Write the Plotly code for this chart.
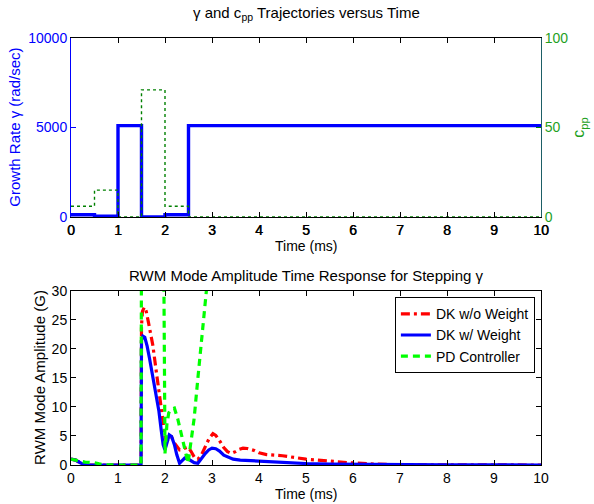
import plotly.graph_objects as go

# ---------------- data ----------------
# top panel: step trajectories (value holds from each time to the next)
step_t = [0, 0.5, 1.0, 1.5, 2.0, 2.5, 10]
gamma_vals = [120, 40, 5100, 0, 120, 5100, 5100]
cpp_vals = [6, 15, 0, 71, 6, 0, 0]

# bottom panel: RWM mode amplitude responses
t_dk = [0, 0.05, 0.1, 0.15, 0.2, 0.25, 0.3, 0.4, 1.0, 1.49, 1.5, 1.53, 1.57, 1.62, 1.67,
        1.72, 1.77, 1.82, 1.87, 1.92, 1.96, 2.0, 2.04, 2.09, 2.14, 2.2, 2.25, 2.31, 2.36,
        2.42, 2.48, 2.55, 2.62, 2.7, 2.78, 2.86, 2.93, 3.0, 3.08, 3.16, 3.25, 3.35, 3.45,
        3.6, 3.8, 4.0, 4.5, 5.0, 5.5, 6.0, 7.0, 8.0, 10.0]
amp_dk_w = [1.0, 0.95, 0.85, 0.6, 0.35, 0.15, 0.05, 0, 0, 0, 21.5, 22.2, 22.0, 20.5, 18.4,
            16.2, 14.0, 12.0, 9.3, 6.0, 3.5, 2.6, 4.0, 5.2, 4.9, 3.5, 1.8, 0.3, 0.7,
            1.2, 1.1, 0.8, 0.4, 0.3, 1.2, 2.0, 2.6, 2.9, 2.8, 2.4, 1.7, 1.3, 1.0,
            0.85, 0.75, 0.65, 0.45, 0.25, 0.15, 0.1, 0.05, 0.02, 0.0]

t_dk_nw = [0, 0.05, 0.1, 0.15, 0.2, 0.25, 0.3, 0.4, 1.0, 1.49, 1.5, 1.52, 1.56, 1.6, 1.65,
           1.7, 1.74, 1.8, 1.85, 1.9, 1.96, 2.0, 2.03, 2.08, 2.14, 2.2, 2.31, 2.4, 2.49,
           2.55, 2.62, 2.7, 2.78, 2.86, 2.94, 3.02, 3.08, 3.16, 3.25, 3.33, 3.41, 3.5,
           3.58, 3.66, 3.75, 3.9, 4.0, 4.16, 4.5, 5.0, 5.5, 6.0, 6.5, 7.0, 8.0, 10.0]
amp_dk_nw = [1.0, 0.95, 0.85, 0.6, 0.35, 0.15, 0.05, 0, 0, 0, 24.0, 26.5, 27.2, 26.5, 24.5,
             22.2, 20.7, 17.0, 13.8, 10.5, 7.5, 5.0, 4.0, 4.6, 4.8, 3.8, 2.6, 2.8, 3.1,
             2.4, 1.4, 1.0, 1.8, 3.2, 4.6, 5.4, 5.1, 4.2, 3.0, 2.3, 2.0, 2.3,
             2.7, 2.9, 2.85, 2.5, 2.1, 1.8, 1.6, 1.0, 0.65, 0.35, 0.15, 0.05, 0.02, 0.0]

t_pd = [0, 0.1, 0.2, 0.3, 0.4, 0.5, 0.6, 0.7, 1.0, 1.49, 1.5, 1.55, 1.97, 2.0, 2.04,
        2.08, 2.13, 2.2, 2.27, 2.35, 2.42, 2.49, 2.55, 2.62, 2.7, 2.78, 2.86, 2.92, 3.0]
amp_pd = [1.0, 0.85, 0.6, 0.5, 0.45, 0.4, 0.2, 0.05, 0, 0, 40, 60, 40, 2.0, 7.0,
          9.0, 9.6, 9.8, 8.0, 5.5, 2.8, 0.3, 3.5, 8.0, 15.0, 22.0, 28.5, 33.0, 40.0]

x_ticks = list(range(0, 11))
gamma_ticks = [0, 5000, 10000]
cpp_ticks = [0, 50, 100]
amp_ticks = [0, 5, 10, 15, 20, 25, 30]

# ---------------- figure ----------------
FONT = "Liberation Sans, Arial, Helvetica, sans-serif"
FS = 14
FT = 15
BLUE = "#0000ff"
DKGREEN = "#008000"
GTEXT = "#1f9f1f"

fig = go.Figure()

fig.add_trace(go.Scatter(x=step_t, y=gamma_vals, mode="lines", line_shape="hv",
                         line=dict(color=BLUE, width=3.4), showlegend=False,
                         xaxis="x", yaxis="y"))
fig.add_trace(go.Scatter(x=step_t, y=cpp_vals, mode="lines", line_shape="hv",
                         line=dict(color=DKGREEN, width=1.4, dash="dot"), showlegend=False,
                         xaxis="x", yaxis="y2"))

fig.add_trace(go.Scatter(x=t_dk_nw, y=amp_dk_nw, mode="lines", name="DK w/o Weight",
                         line=dict(color="#ff0000", width=3.2, dash="9px,4px,3px,4px"),
                         xaxis="x2", yaxis="y3"))
fig.add_trace(go.Scatter(x=t_dk, y=amp_dk_w, mode="lines", name="DK w/ Weight",
                         line=dict(color=BLUE, width=3.2), xaxis="x2", yaxis="y3"))
fig.add_trace(go.Scatter(x=t_pd, y=amp_pd, mode="lines", name="PD Controller",
                         line=dict(color="#00ff00", width=3.2, dash="7px,5px"),
                         xaxis="x2", yaxis="y3"))

axis_common = dict(ticks="inside", ticklen=5, showgrid=False, zeroline=False)

fig.update_layout(
    width=594, height=504,
    margin=dict(l=71, r=53, t=38, b=39),
    paper_bgcolor="white", plot_bgcolor="white",
    font=dict(family=FONT, size=FS, color="black"),
    xaxis=dict(domain=[0, 1], range=[0, 10], tickvals=x_ticks, anchor="y",
               showline=True, linecolor="black", linewidth=1, mirror="ticks",
               tickcolor="black",
               tickfont=dict(family=FONT, size=FS, color="black",
                             shadow="0.5px 0 0 black"),
               **axis_common),
    yaxis=dict(domain=[0.581, 1], range=[0, 10000], tickvals=gamma_ticks,
               ticktext=[str(v) for v in gamma_ticks], anchor="x",
               showline=True, linecolor=BLUE, linewidth=1, tickcolor=BLUE,
               tickfont=dict(family=FONT, size=FS, color=BLUE), **axis_common),
    yaxis2=dict(overlaying="y", side="right", range=[0, 100], tickvals=cpp_ticks,
                anchor="x", showline=True, linecolor="#1d5f66", linewidth=1,
                tickcolor=DKGREEN,
                tickfont=dict(family=FONT, size=FS, color=GTEXT), **axis_common),
    xaxis2=dict(domain=[0, 1], range=[0, 10], tickvals=x_ticks, anchor="y3",
                showline=True, linecolor="black", linewidth=1, mirror="ticks",
                tickcolor="black", tickfont=dict(family=FONT, size=FS, color="black"),
                **axis_common),
    yaxis3=dict(domain=[0, 0.4075], range=[0, 30], tickvals=amp_ticks, anchor="x2",
                showline=True, linecolor="black", linewidth=1, mirror="ticks",
                tickcolor="black", tickfont=dict(family=FONT, size=FS, color="black"),
                **axis_common),
    legend=dict(x=0.987, xanchor="right", y=0.393, yanchor="top",
                bgcolor="white", bordercolor="black", borderwidth=1,
                font=dict(family=FONT, size=14, color="black"),
                tracegroupgap=0, itemwidth=30),
)

ann = [
    dict(text="γ and c<sub>pp</sub> Trajectories versus Time", x=0.5, y=1.058,
         xanchor="center", yanchor="middle", font=dict(size=FT)),
    dict(text="Time (ms)", x=0.5, y=(465 - 246) / 427, xanchor="center", yanchor="middle",
         font=dict(size=FS)),
    dict(text="RWM Mode Amplitude Time Response for Stepping γ", x=0.5, y=0.443,
         xanchor="center", yanchor="middle", font=dict(size=FT)),
    dict(text="Time (ms)", x=0.5, y=(465 - 494) / 427, xanchor="center", yanchor="middle",
         font=dict(size=FS)),
    dict(text="Growth Rate γ (rad/sec)", x=(15 - 71) / 470, y=0.79, textangle=-90,
         xanchor="center", yanchor="middle", font=dict(size=FT, color=BLUE)),
    dict(text="c<sub>pp</sub>", x=(580 - 71) / 470, y=0.79, textangle=-90,
         xanchor="center", yanchor="middle", font=dict(size=FT + 1, color=GTEXT)),
    dict(text="RWM Mode Amplitude (G)", x=(40 - 71) / 470, y=0.204, textangle=-90,
         xanchor="center", yanchor="middle", font=dict(size=FT)),
]
for a in ann:
    a.update(xref="paper", yref="paper", showarrow=False)
    a["font"] = dict(family=FONT, **a["font"])
fig.update_layout(annotations=ann)

fig.write_html(
    "out.html",
    config={"displayModeBar": False},
    post_script="document.body.style.margin='0';document.body.style.padding='0';"
                "document.documentElement.style.overflow='hidden';",
)
